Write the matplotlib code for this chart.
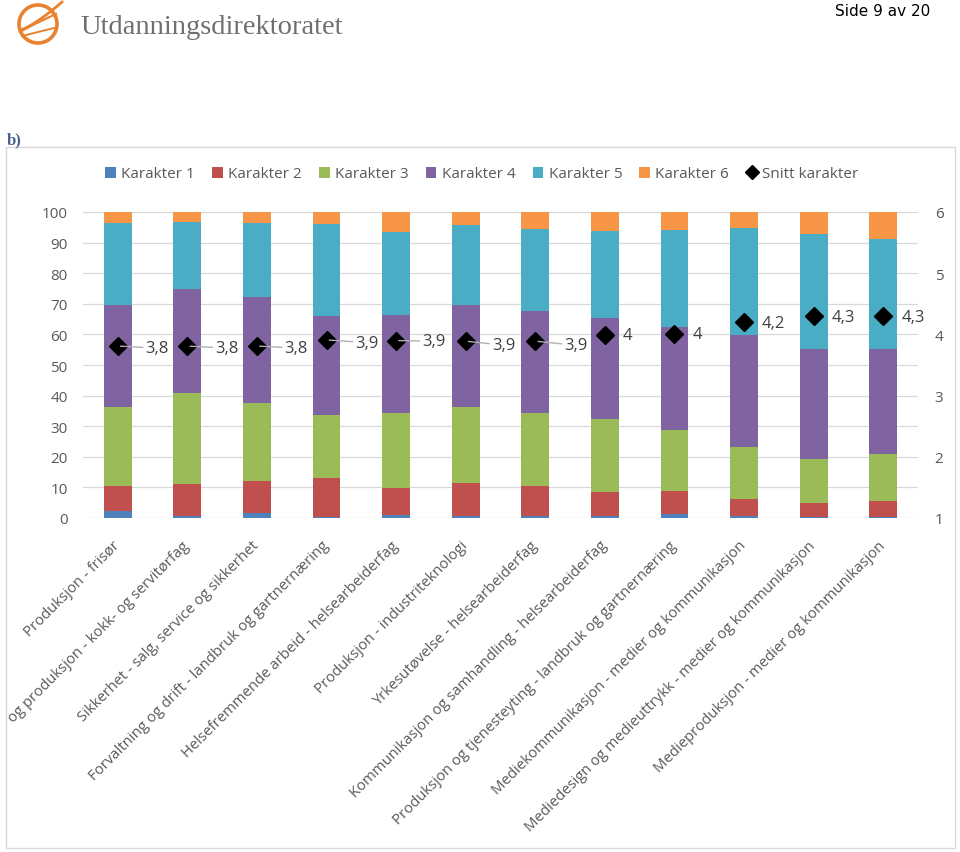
import matplotlib
matplotlib.use("Agg")
import matplotlib.pyplot as plt
from matplotlib.lines import Line2D
from matplotlib.patches import Rectangle, Circle, Patch
import numpy as np

plt.rcParams['font.family'] = ['Open Sans', 'DejaVu Sans']

categories = [
    "Produksjon - frisør",
    "og produksjon - kokk- og servitørfag",
    "Sikkerhet - salg, service og sikkerhet",
    "Forvaltning og drift - landbruk og gartnernæring",
    "Helsefremmende arbeid - helsearbeiderfag",
    "Produksjon - industriteknologi",
    "Yrkesutøvelse - helsearbeiderfag",
    "Kommunikasjon og samhandling - helsearbeiderfag",
    "Produksjon og tjenesteyting - landbruk og gartnernæring",
    "Mediekommunikasjon - medier og kommunikasjon",
    "Mediedesign og medieuttrykk - medier og kommunikasjon",
    "Medieproduksjon - medier og kommunikasjon",
]
karakter1 = [2.2, 0.8, 1.5, 0.4, 1.1, 0.8, 0.8, 0.8, 1.2, 0.8, 0.4, 0.4]
karakter2 = [8.4, 10.3, 10.6, 12.6, 8.6, 10.7, 9.8, 7.6, 7.7, 5.4, 4.4, 5.3]
karakter3 = [25.6, 29.7, 25.5, 20.7, 24.7, 24.7, 23.6, 23.8, 20.0, 16.9, 14.5, 15.1]
karakter4 = [33.5, 34.1, 34.5, 32.2, 32.1, 33.5, 33.6, 33.2, 33.4, 36.8, 35.9, 34.3]
karakter5 = [26.8, 21.8, 24.4, 30.3, 27.0, 26.2, 26.7, 28.3, 31.7, 34.9, 37.6, 36.2]
karakter6 = [3.5, 3.3, 3.5, 3.8, 6.5, 4.1, 5.5, 6.3, 6.0, 5.2, 7.2, 8.7]
snitt = [3.81, 3.81, 3.81, 3.91, 3.90, 3.89, 3.89, 3.99, 4.00, 4.21, 4.30, 4.30]
series_names = ["Karakter 1", "Karakter 2", "Karakter 3", "Karakter 4", "Karakter 5", "Karakter 6"]
left_ticks = [0, 10, 20, 30, 40, 50, 60, 70, 80, 90, 100]
right_ticks = [1, 2, 3, 4, 5, 6]

colors = ['#4F81BD', '#C0504D', '#9BBB59', '#8064A2', '#4BACC6', '#F79646']
txt_gray = '#595959'
grid_gray = '#d9d9d9'

W, H = 960, 853
fig = plt.figure(figsize=(W / 100, H / 100), dpi=100)

# decoration layer in pixel coords
deco = fig.add_axes([0, 0, 1, 1], zorder=0)
deco.set_xlim(0, W)
deco.set_ylim(H, 0)
deco.axis('off')

chart_box = Rectangle((6, 148), 949, 701, fill=False, edgecolor='#d9d9d9', lw=1.0)
deco.add_patch(chart_box)

# logo
orange = '#E8822E'
deco.add_patch(Circle((38, 25), 19, fill=False, edgecolor=orange, lw=2.6))
t = np.linspace(0, 1, 50)
deco.plot(20 + 42 * t, 31 - 28 * t ** 1.3, color=orange, lw=2.0)
deco.plot(20 + 36 * t, 33 - 14 * t ** 0.9 - 4 * t, color=orange, lw=1.6)
deco.plot(22 + 32 * t, 37 - 8 * t, color=orange, lw=1.4)
deco.text(80, 27, "Utdanningsdirektoratet", fontsize=20.5, family='Liberation Serif',
          color='#6f6f6f', va='center', ha='left')
deco.text(930, 11, "Side 9 av 20", fontsize=11, family='DejaVu Sans', color='black',
          va='center', ha='right')
deco.text(7, 140, "b)", fontsize=12, family='Liberation Serif', fontweight='bold',
          color='#4a6491', va='center', ha='left')

ax = fig.add_axes([83 / W, 334 / H, 835 / W, 306 / H], zorder=2)
ax.patch.set_alpha(0)
x = np.arange(len(categories))
bottom = np.zeros(len(categories))
data = [karakter1, karakter2, karakter3, karakter4, karakter5, karakter6]
for vals, col, name in zip(data, colors, series_names):
    ax.bar(x, vals, bottom=bottom, width=0.40, color=col, label=name, zorder=2)
    bottom += np.array(vals)

ax.set_xlim(-0.5, len(categories) - 0.5)
ax.set_ylim(0, 100)
ax.set_yticks(left_ticks)
ax.yaxis.grid(True, color=grid_gray, lw=0.9, zorder=0)
ax.set_axisbelow(True)
for s in ax.spines.values():
    s.set_visible(False)
ax.tick_params(axis='y', length=0, pad=11, labelsize=11, labelcolor=txt_gray)
ax.tick_params(axis='x', length=0, pad=18, labelsize=10.7, labelcolor=txt_gray)
ax.set_xticks(x)
ax.set_xticklabels(categories, rotation=45, ha='right', va='center', rotation_mode='anchor')
clip_rect = Rectangle((6, 148), 949, 701, transform=deco.transData, fill=False)
for lab in ax.get_xticklabels():
    lab.set_clip_path(clip_rect)
    lab.set_clip_on(True)

ax2 = ax.twinx()
ax2.set_ylim(1, 6)
ax2.set_yticks(right_ticks)
for s in ax2.spines.values():
    s.set_visible(False)
ax2.tick_params(axis='y', length=0, pad=12, labelsize=11, labelcolor=txt_gray)
ax2.plot(x, snitt, linestyle='none', marker='D', markersize=9.5, color='black', zorder=5)


def fmt(v):
    s = f"{round(v, 1):.1f}"
    if s.endswith(".0"):
        s = s[:-2]
    return s.replace('.', ',')


# label offsets in points (style), leader lines for first seven
offsets = [(20, -1.5), (20, -1.5), (20, -1.5), (21, -2), (19, -0.5), (19, -3), (21, -3),
           (13, 0), (13, 0), (13, -1), (13, -0.5), (13, -0.5)]
for i, (xi, v) in enumerate(zip(x, snitt)):
    dx, dy = offsets[i]
    lead = i < 7
    ax2.annotate(fmt(v), xy=(xi, v), xytext=(dx, dy), textcoords='offset points',
                 ha='left', va='center', fontsize=12, color='#404040', zorder=6,
                 arrowprops=dict(arrowstyle='-', color='#b0b0b0', lw=1.0,
                                 shrinkA=0, shrinkB=2) if lead else None)

handles = [Patch(facecolor=c, edgecolor='none') for c in colors]
handles.append(Line2D([], [], linestyle='none', marker='D', markersize=7, color='black'))
labels = series_names + ["Snitt karakter"]
fig.legend(handles, labels, loc='center', bbox_to_anchor=(0.502, 1 - 175 / H), ncol=7,
           frameon=False, fontsize=11, labelcolor=txt_gray, handlelength=0.7,
           handleheight=0.7, handletextpad=0.35, columnspacing=1.12)

fig.savefig("out.png", dpi=100)
